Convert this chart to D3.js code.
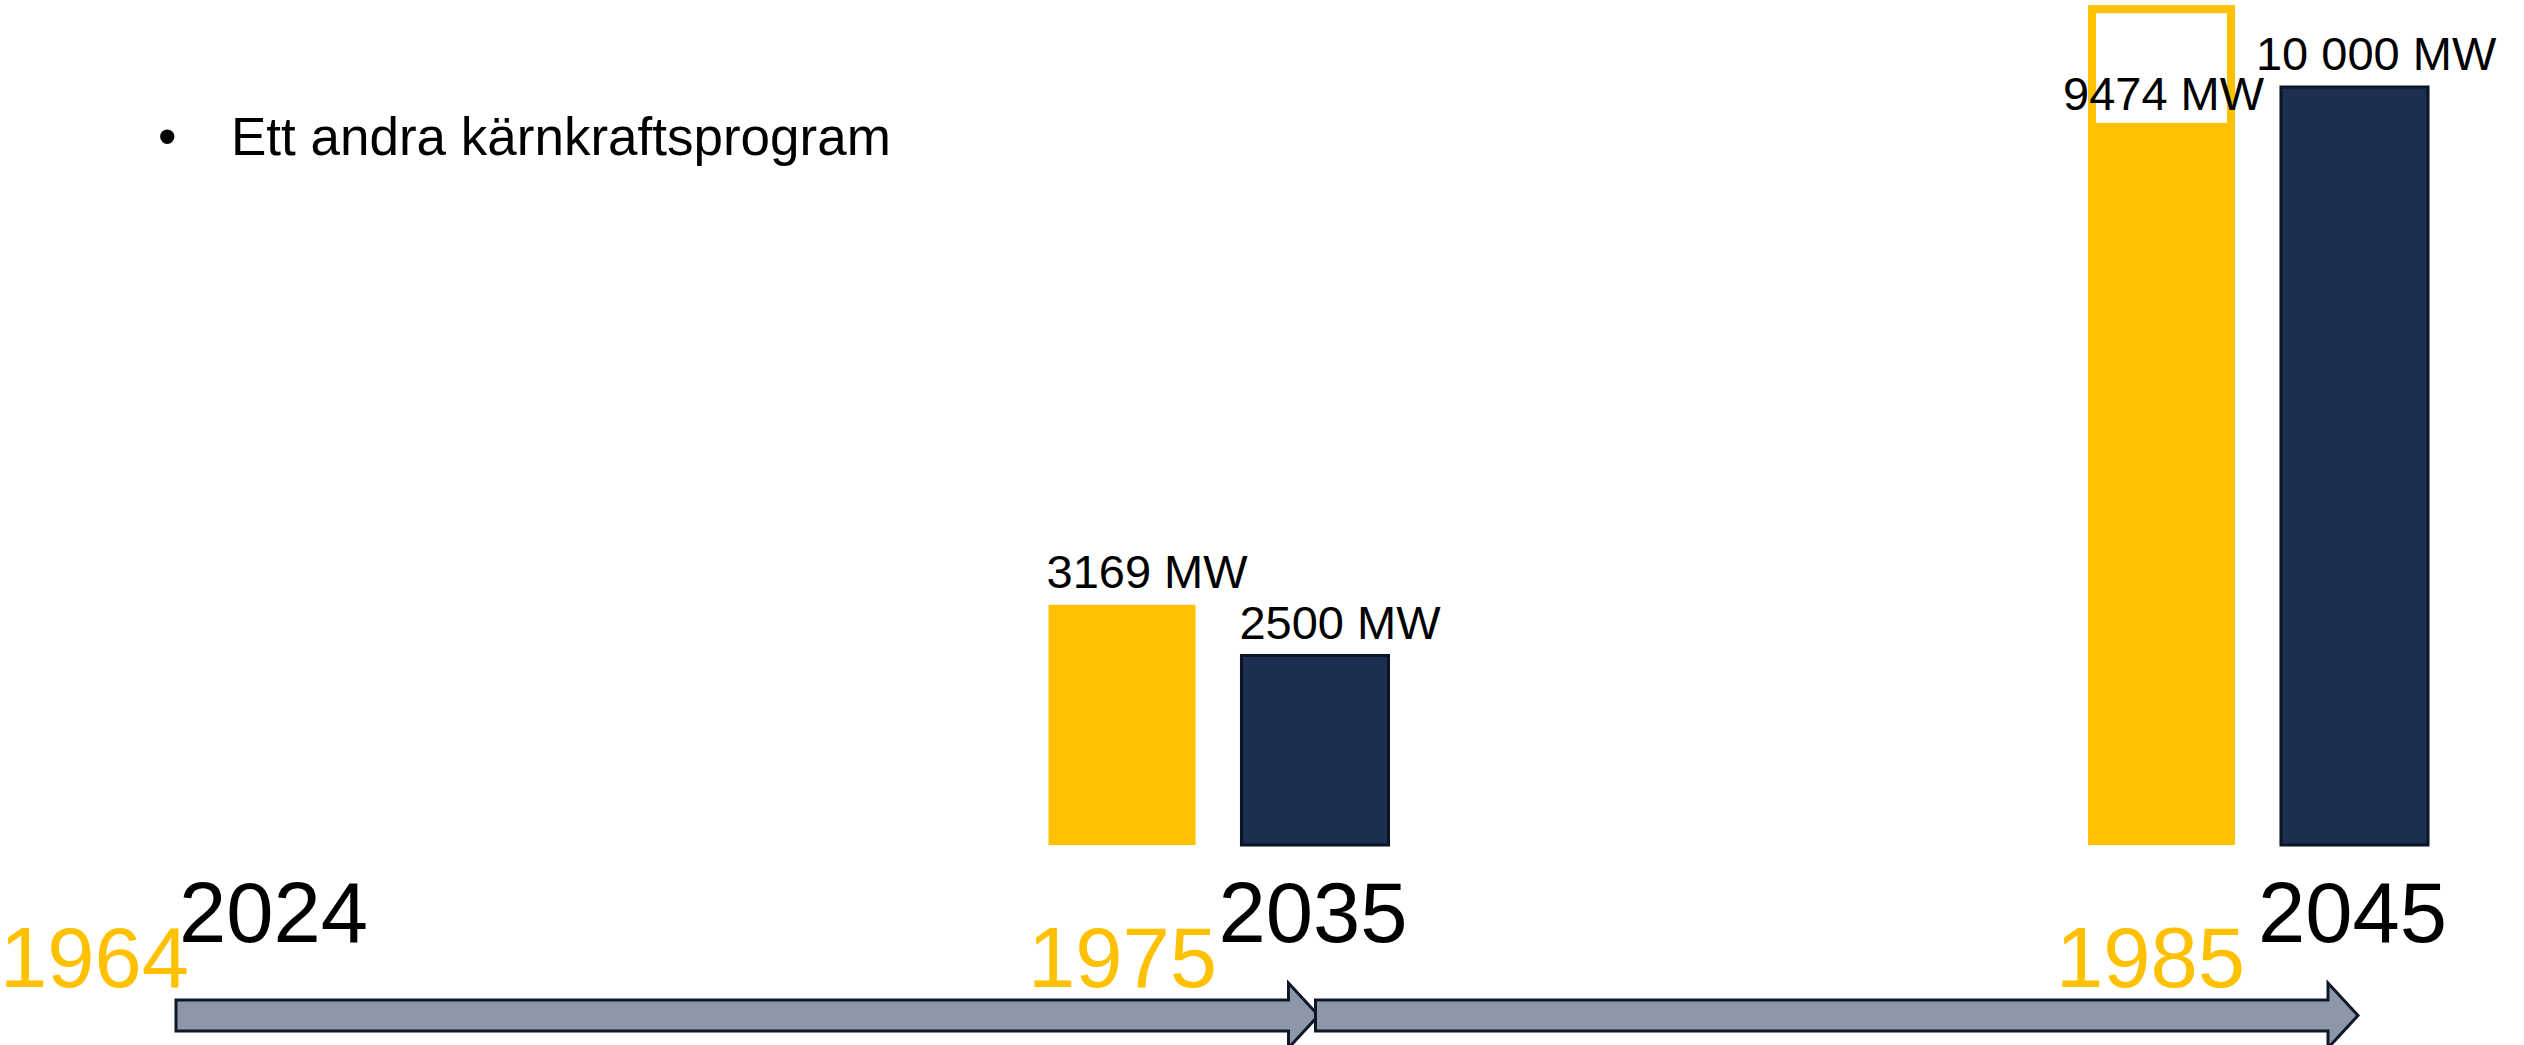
<!DOCTYPE html>
<html>
<head>
<meta charset="utf-8">
<script src="https://cdn.jsdelivr.net/npm/d3@7"></script>
<style>
  body { margin: 0; background: #fff; }
  svg { display: block; font-family: "Liberation Sans", Arial, sans-serif; }
  .arrow { fill: #8C98A8; stroke: #0E1829; stroke-width: 3; }
  .bar-old { fill: #FFC000; }
  .bar-new { fill: #1C2F50; stroke: #0B1526; stroke-width: 3; }
</style>
</head>
<body>
<div id="chart"></div>
<script>
var width = 2524;
var height = 1045;

// data
var title = "Ett andra kärnkraftsprogram";
var futureYears = ["2024", "2035", "2045"];
var pastYears = ["1964", "1975", "1985"];
var groups = ["2035", "2045"];          // bar groups sit at these timeline points
var pastMW = [3169, 9474];              // first program (yellow)
var futureMW = [2500, 10000];           // second program (navy)
var pastLabels = ["3169 MW", "9474 MW"];
var futureLabels = ["2500 MW", "10 000 MW"];
var boxTopMW = 11080;                   // top of the yellow outline box above the 9474 bar

var svg = d3.select("#chart")
            .append("svg")
            .attr("width", width)
            .attr("height", height);

// title with bullet
svg.append("text")
   .attr("x", 158)
   .attr("y", 155)
   .attr("font-size", 53)
   .text("•");
svg.append("text")
   .attr("x", 231)
   .attr("y", 155)
   .attr("font-size", 53)
   .text(title);

// scales
var xScale = d3.scalePoint()
               .domain(futureYears)
               .range([179, 2258]);
var xPast = d3.scalePoint()
              .domain(pastYears)
              .range([189, 2245]);
var inner = d3.scaleBand()
              .domain(["past", "future"])
              .range([-170, 170])
              .paddingInner(0.238);
var yScale = d3.scaleLinear()
               .domain([0, 10000])
               .range([845, 87]);

// bars
var barData = groups.map(function(g, i){
  return [
    {group: g, kind: "past", value: pastMW[i], label: pastLabels[i], i: i},
    {group: g, kind: "future", value: futureMW[i], label: futureLabels[i], i: i}
  ];
});
var flat = [].concat.apply([], barData);

// outline box above the tall yellow bar
svg.append("rect")
   .attr("x", xScale("2045") + inner("past") + 4)
   .attr("y", yScale(boxTopMW) + 4)
   .attr("width", inner.bandwidth() - 8)
   .attr("height", yScale(pastMW[1]) - yScale(boxTopMW) - 4)
   .attr("fill", "none")
   .attr("stroke", "#FFC000")
   .attr("stroke-width", 8);

svg.selectAll(".bar")
   .data(flat)
   .enter()
   .append("rect")
   .attr("class", function(d){ return d.kind == "past" ? "bar-old" : "bar-new"; })
   .attr("x", function(d){ return xScale(d.group) + inner(d.kind); })
   .attr("y", function(d){ return yScale(d.value); })
   .attr("width", inner.bandwidth())
   .attr("height", function(d){ return yScale(0) - yScale(d.value); });

var labelDx = [-2, -25];
svg.selectAll(".barlabel")
   .data(flat)
   .enter()
   .append("text")
   .attr("class", "barlabel")
   .attr("x", function(d){ return xScale(d.group) + inner(d.kind) + labelDx[d.i]; })
   .attr("y", function(d){ return yScale(d.value) - 17; })
   .attr("font-size", 47)
   .attr("fill", "#000")
   .text(function(d){ return d.label; });

// timeline arrows
var c = 1015.5;
var arrowData = [];
for(var i = 0; i < futureYears.length - 1; i++){
  var x0 = i == 0 ? xScale(futureYears[i]) - 3 : xScale(futureYears[i]) + 97;
  var x1 = xScale(futureYears[i+1]) + 100;
  arrowData.push({x0: x0, x1: x1});
}
var arrowPath = function(d){
  var xb = d.x1 - 30;
  var p = d3.path();
  p.moveTo(d.x0, c - 15.5);
  p.lineTo(xb, c - 15.5);
  p.lineTo(xb, c - 32.5);
  p.lineTo(d.x1, c);
  p.lineTo(xb, c + 32.5);
  p.lineTo(xb, c + 15.5);
  p.lineTo(d.x0, c + 15.5);
  p.closePath();
  return p.toString();
};
svg.selectAll(".arrow")
   .data(arrowData)
   .enter()
   .append("path")
   .attr("class", "arrow")
   .attr("d", arrowPath);

// year labels
svg.selectAll(".future-year")
   .data(futureYears)
   .enter()
   .append("text")
   .attr("x", function(d){ return xScale(d); })
   .attr("y", 942)
   .attr("font-size", 85)
   .attr("fill", "#000")
   .text(function(d){ return d; });

svg.selectAll(".past-year")
   .data(pastYears)
   .enter()
   .append("text")
   .attr("x", function(d){ return xPast(d); })
   .attr("y", 987)
   .attr("font-size", 85)
   .attr("text-anchor", "end")
   .attr("fill", "#FFC000")
   .text(function(d){ return d; });
</script>
</body>
</html>
